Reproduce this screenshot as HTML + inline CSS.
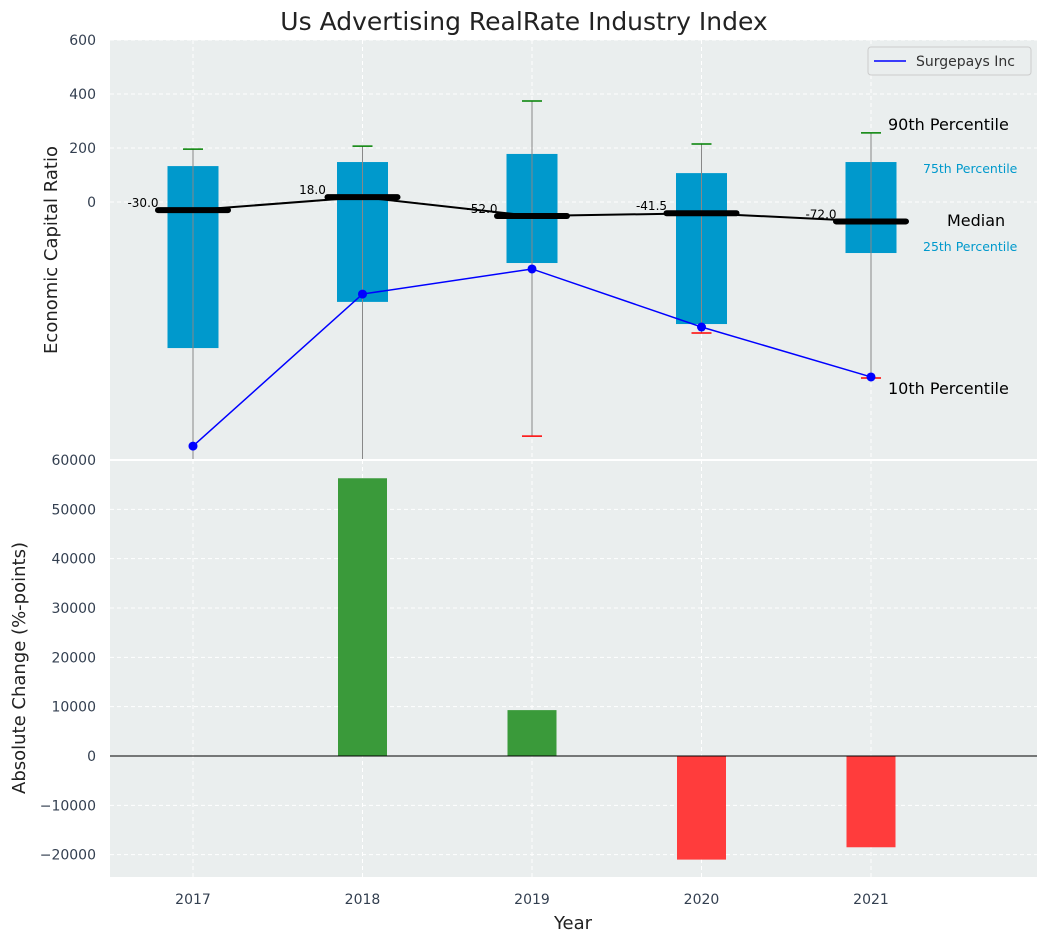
<!DOCTYPE html>
<html><head><meta charset="utf-8"><style>
body{margin:0;background:#fff;font-family:"Liberation Sans","DejaVu Sans",sans-serif}
</style></head><body>
<svg id="chart" width="1048" height="942" xmlns="http://www.w3.org/2000/svg" font-family="DejaVu Sans, Liberation Sans, sans-serif"></svg>
<script>
const years=['2017','2018','2019','2020','2021'];
const p90=[196,207,374,215,256];
const p75=[133,148,178,107,148];
const median=[-30,18,-52,-41.5,-72];
const p25=[-541,-370,-226,-452,-189];
const p10=[-1000,-1000,-867,-485,-652];
const company=[-904,-341,-248,-463,-648];
const changes=[0,56300,9300,-21000,-18500];
const topTicks=[600,400,200,0];
const botTicks=[60000,50000,40000,30000,20000,10000,0,-10000,-20000];

const NS='http://www.w3.org/2000/svg';
const svg=document.getElementById('chart');
function mk(tag,attrs,parent,text){const e=document.createElementNS(NS,tag);for(const k in attrs)e.setAttribute(k,attrs[k]);if(text!==undefined)e.textContent=text;(parent||svg).appendChild(e);return e;}
const L=110,R=1037;
const xs=i=>193+i*169.5;
const yT=v=>202-(v)*0.27;
const yB=v=>756-v*296/60000;
const T0=40,T1=460,B0=460,B1=877;

let bg=mk('rect',{x:L,y:T0,width:R-L,height:T1-T0,fill:'#eaeeee'});

let bg2=mk('rect',{x:L,y:B0,width:R-L,height:B1-B0,fill:'#eaeeee'});

years.forEach((y,i)=>{mk('line',{x1:xs(i),x2:xs(i),y1:T0,y2:B1,stroke:'#fff','stroke-dasharray':'4,3'});});
topTicks.forEach(t=>{
  mk('line',{x1:L,x2:R,y1:yT(t),y2:yT(t),stroke:'#fff','stroke-dasharray':'4,3','stroke-width':1});
  const tx=mk('text',{x:96,y:yT(t)+5,'text-anchor':'end','font-size':14,fill:'#333f50'},svg,String(t));
  
});
botTicks.forEach(t=>{
  mk('line',{x1:L,x2:R,y1:yB(t),y2:yB(t),stroke:'#fff','stroke-dasharray':'4,3'});
  const lab=t<0?'\u2212'+Math.abs(t):String(t);
  const tx=mk('text',{x:96,y:yB(t)+5,'text-anchor':'end','font-size':14,fill:'#333f50'},svg,lab);
  
});
const clipT=mk('clipPath',{id:'ct'});mk('rect',{x:L,y:T0,width:R-L,height:T1-T0},clipT);
const gT=mk('g',{'clip-path':'url(#ct)'});

years.forEach((y,i)=>{
  const x=xs(i);
  const b=mk('rect',{x:x-25.5,y:yT(p75[i]),width:51,height:yT(p25[i])-yT(p75[i]),fill:'#0099cc'},gT);
  
  const w=mk('line',{x1:x,x2:x,y1:yT(p90[i]),y2:yT(p10[i]),stroke:'#888','stroke-width':1},gT);
  
  const c1=mk('line',{x1:x-10,x2:x+10,y1:yT(p90[i]),y2:yT(p90[i]),stroke:'green','stroke-width':1.5},gT);
  
  const c2=mk('line',{x1:x-10,x2:x+10,y1:yT(p10[i]),y2:yT(p10[i]),stroke:'red','stroke-width':1.5},gT);
  
});
const mpath=mk('polyline',{points:median.map((v,i)=>xs(i)+','+yT(v)).join(' '),fill:'none',stroke:'#000','stroke-width':2},gT);

median.forEach((v,i)=>{
  const m=mk('line',{x1:xs(i)-35,x2:xs(i)+35,y1:yT(v),y2:yT(v),stroke:'#000','stroke-width':6,'stroke-linecap':'round'},gT);
  
  const t=mk('text',{x:xs(i)-50,y:yT(v)-3,'text-anchor':'middle','font-size':12,fill:'#000'},gT,v.toFixed(1));
  
});
const cl=mk('polyline',{points:company.map((v,i)=>xs(i)+','+yT(v)).join(' '),fill:'none',stroke:'blue','stroke-width':1.5},gT);

company.forEach((v,i)=>{
  const p=mk('circle',{cx:xs(i),cy:yT(v),r:4.5,fill:'blue'},gT);
  
});
[['90th Percentile',888,130,16,'#000'],['75th Percentile',923,173,12.5,'#0099cc'],['Median',947,226,16,'#000'],['25th Percentile',923,251,12.5,'#0099cc'],['10th Percentile',888,394,16,'#000']].forEach(a=>{
  const t=mk('text',{x:a[1],y:a[2],'font-size':a[3],fill:a[4]},svg,a[0]);
  
});
const lg=mk('g',{});
mk('rect',{x:868,y:47,width:163,height:28,rx:3,fill:'#eaeeee',stroke:'#ccc'},lg);
mk('line',{x1:874,x2:906,y1:61,y2:61,stroke:'blue','stroke-width':1.5},lg);
mk('text',{x:916,y:66,'font-size':14,fill:'#333'},lg,'Surgepays Inc');
changes.forEach((v,i)=>{
  if(v===0)return;
  const y0=Math.min(yB(v),yB(0)),h=Math.abs(yB(v)-yB(0));
  const r=mk('rect',{x:xs(i)-24.5,y:y0,width:49,height:h,fill:v>0?'#3a9a3a':'#ff3c3c'});
  
});
mk('line',{x1:L,x2:R,y1:yB(0),y2:yB(0),stroke:'#000','stroke-width':1});
mk('line',{x1:L,x2:R,y1:460,y2:460,stroke:'#fff','stroke-width':2});
years.forEach((y,i)=>{
  const t=mk('text',{x:xs(i),y:904,'text-anchor':'middle','font-size':14,fill:'#333f50'},svg,y);
  
});
let t=mk('text',{x:524,y:30,'text-anchor':'middle','font-size':25,fill:'#222'},svg,'Us Advertising RealRate Industry Index');

t=mk('text',{x:573,y:929,'text-anchor':'middle','font-size':18,fill:'#222'},svg,'Year');

t=mk('text',{x:57,y:250,'text-anchor':'middle','font-size':18,fill:'#222',transform:'rotate(-90 57 250)'},svg,'Economic Capital Ratio');

t=mk('text',{x:25,y:668,'text-anchor':'middle','font-size':18,fill:'#222',transform:'rotate(-90 25 668)'},svg,'Absolute Change (%-points)');

</script>
</body></html>
